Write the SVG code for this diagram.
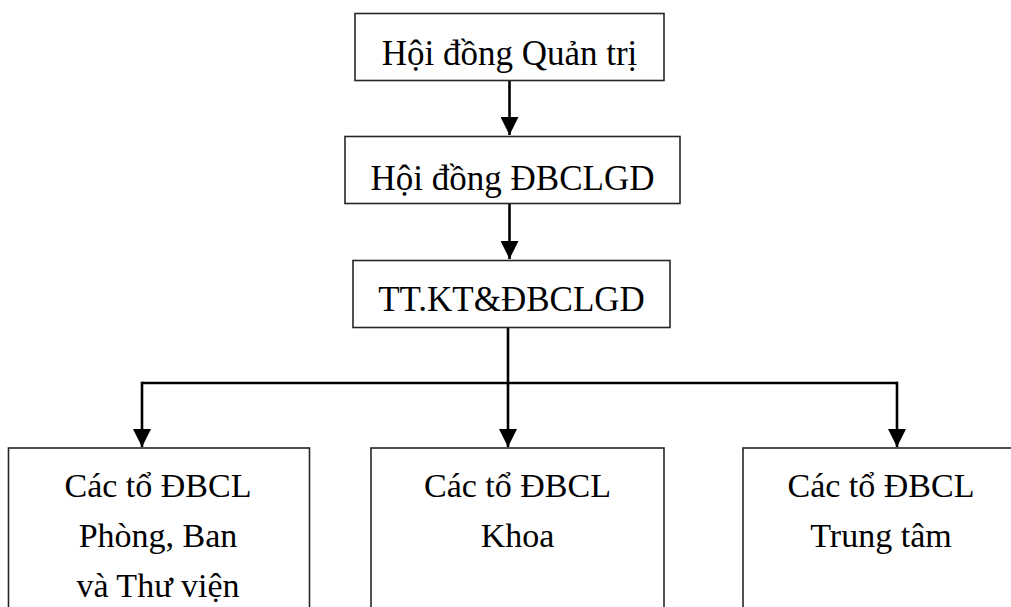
<svg xmlns="http://www.w3.org/2000/svg" width="1011" height="607" viewBox="0 0 1011 607">
<style>
.box{fill:#fff;stroke:#262626;stroke-width:1.6}
.t{font-family:"Liberation Serif","Times New Roman",serif;font-size:35px;fill:#000;text-anchor:middle}
.b{font-size:34px}
.c{fill:none;stroke:#000;stroke-width:2.6}
</style>
<defs>
<marker id="ah" markerUnits="userSpaceOnUse" markerWidth="18" markerHeight="18" viewBox="0 0 16 16" refX="16" refY="8" orient="auto">
<path d="M0,0 L16,8 L0,16 Z" fill="#000"/>
</marker>
</defs>
<rect width="1011" height="607" fill="#fff"/>
<g id="connectors">
<line class="c" x1="509.5" y1="81" x2="509.5" y2="135" marker-end="url(#ah)"/>
<line class="c" x1="509.5" y1="204" x2="509.5" y2="259" marker-end="url(#ah)"/>
<polyline class="c" points="508,328 508,383"/>
<polyline class="c" points="142,383 897,383"/>
<line class="c" x1="142" y1="381.7" x2="142" y2="447" marker-end="url(#ah)"/>
<line class="c" x1="508" y1="383" x2="508" y2="447" marker-end="url(#ah)"/>
<line class="c" x1="897" y1="381.7" x2="897" y2="447" marker-end="url(#ah)"/>
</g>
<g id="n1"><rect class="box" x="355" y="13.5" width="309" height="67"/><text class="t" x="509.5" y="65">Hội đồng Quản trị</text></g>
<g id="n2"><rect class="box" x="345" y="136.5" width="335" height="67"/><text class="t" x="512.5" y="190">Hội đồng ĐBCLGD</text></g>
<g id="n3"><rect class="box" x="353" y="260.5" width="317" height="67"/><text class="t" x="511.5" y="311">TT.KT&amp;ĐBCLGD</text></g>
<g id="n4"><rect class="box" x="8.5" y="448" width="301" height="170"/><text class="t b" x="158" y="497">Các tổ ĐBCL</text><text class="t b" x="158" y="547">Phòng, Ban</text><text class="t b" x="158" y="597">và Thư viện</text></g>
<g id="n5"><rect class="box" x="371" y="448" width="293" height="170"/><text class="t b" x="517.5" y="497">Các tổ ĐBCL</text><text class="t b" x="517.5" y="547">Khoa</text></g>
<g id="n6"><rect class="box" x="743" y="448" width="290" height="170"/><text class="t b" x="881" y="497">Các tổ ĐBCL</text><text class="t b" x="881" y="547">Trung tâm</text></g>
</svg>
